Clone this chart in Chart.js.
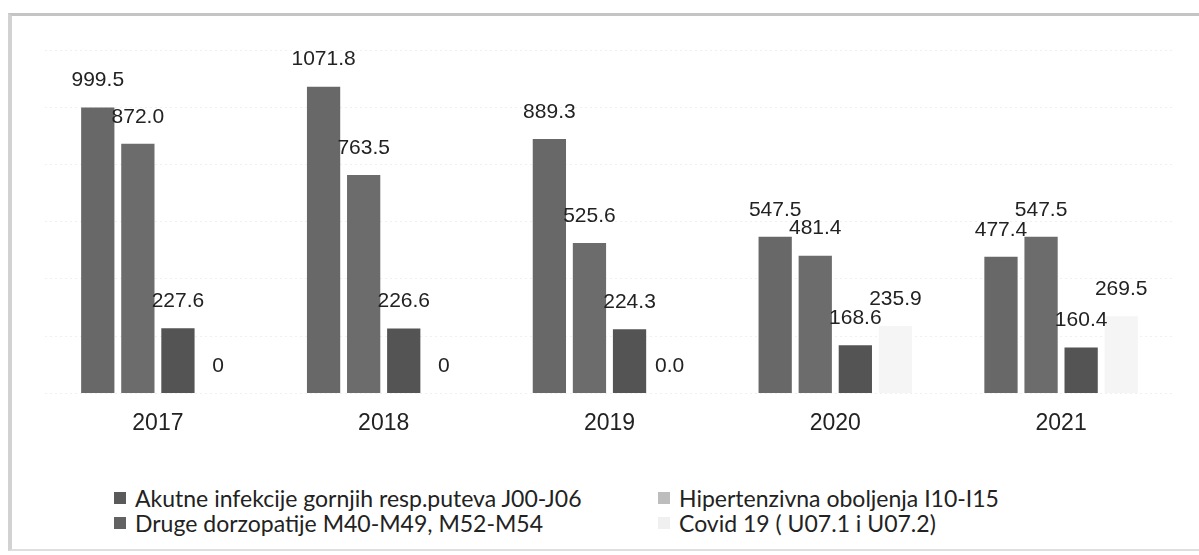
<!DOCTYPE html>
<html lang="sr">
<head>
    <meta charset="UTF-8">
    <title>Oboljenja 2017-2021</title>
    <script src="https://cdn.jsdelivr.net/npm/chart.js"></script>
    <style>
        body {
            margin: 0;
            background: #fff;
            font-family: Arial, sans-serif;
        }

        #wrap {
            position: relative;
            width: 1199px;
            height: 555px;
            overflow: hidden;
        }

        #frame {
            position: absolute;
            left: 8px;
            top: 13px;
            width: 1200px;
            height: 533px;
            border-top: 3px solid #c4c4c4;
            border-left: 4px solid #d2d2d2;
            border-bottom: 2px solid #dedede;
        }

        #chart {
            position: absolute;
            left: 0;
            top: 0;
        }

        #legend {
            position: absolute;
            left: 114px;
            top: 485px;
            display: grid;
            grid-template-columns: 544px 420px;
            font-family: Lato, "Open Sans", sans-serif;
            font-size: 23px;
            color: #222;
        }

        .item {
            display: flex;
            align-items: center;
            height: 25px;
            white-space: nowrap;
        }

        .box {
            width: 12px;
            height: 12px;
            margin-right: 9px;
        }
    </style>
</head>
<body>

<div id="wrap">
    <div id="frame"></div>
    <canvas id="chart" width="1199" height="447"></canvas>
    <div id="legend"></div>
</div>

<script>
    const years = ['2017', '2018', '2019', '2020', '2021'];

    const akutne = [999.5, 1071.8, 889.3, 547.5, 477.4];
    const hipertenzivna = [872.0, 763.5, 525.6, 481.4, 547.5];
    const druge = [227.6, 226.6, 224.3, 168.6, 160.4];
    const covid = [0, 0, 0, 235.9, 269.5];

    // labels as printed on the original (covid zeros are not uniform)
    const covidLabels = ['0', '0', '0.0', '235.9', '269.5'];

    const seriesNames = [
        'Akutne infekcije gornjih resp.puteva J00-J06',
        'Hipertenzivna oboljenja I10-I15',
        'Druge dorzopatije M40-M49, M52-M54',
        'Covid 19 ( U07.1 i U07.2)'
    ];

    const barColors = ['#686868', '#6c6c6c', '#545454', '#f5f5f5'];
    const legendColors = ['#5a5a5a', '#bdbdbd', '#626262', '#f0f0f0'];

    const valueLabels = {
        id: 'valueLabels',
        afterDatasetsDraw(chart) {
            const c = chart.ctx;
            c.save();
            c.font = '21px Arial';
            c.fillStyle = '#222';
            c.textAlign = 'center';
            c.textBaseline = 'middle';
            chart.data.datasets.forEach((ds, di) => {
                chart.getDatasetMeta(di).data.forEach((bar, i) => {
                    const txt = di === 3 ? covidLabels[i] : ds.data[i].toFixed(1);
                    c.fillText(txt, bar.x, bar.y - 27);
                });
            });
            c.restore();
        }
    };

    const ctx = document.getElementById('chart').getContext('2d');
    const chart = new Chart(ctx, {
        type: 'bar',
        data: {
            labels: years,
            datasets: [akutne, hipertenzivna, druge, covid].map((d, i) => ({
                label: seriesNames[i],
                data: d,
                backgroundColor: barColors[i],
                borderWidth: 0,
                categoryPercentage: 0.71,
                barPercentage: 0.83
            }))
        },
        options: {
            responsive: false,
            animation: false,
            layout: {
                padding: { left: 45, right: 25, top: 50, bottom: 2 }
            },
            plugins: {
                legend: { display: false },
                tooltip: { enabled: false }
            },
            scales: {
                x: {
                    grid: { display: false },
                    border: { display: false },
                    ticks: {
                        color: '#222',
                        padding: 8,
                        font: { family: 'Arial', size: 23 }
                    }
                },
                y: {
                    min: 0,
                    max: 1200,
                    ticks: { display: false, stepSize: 200 },
                    border: { display: false, dash: [2, 3] },
                    grid: {
                        color: 'rgba(0,0,0,0.06)',
                        drawTicks: false
                    }
                }
            }
        },
        plugins: [valueLabels]
    });

    // legend in two columns, filled row by row like the original
    const legend = document.getElementById('legend');
    seriesNames.forEach((name, i) => {
        const item = document.createElement('div');
        item.className = 'item';
        item.innerHTML = '<span class="box" style="background:' + legendColors[i] + '"></span>' + name;
        legend.appendChild(item);
    });
</script>
</body>
</html>
